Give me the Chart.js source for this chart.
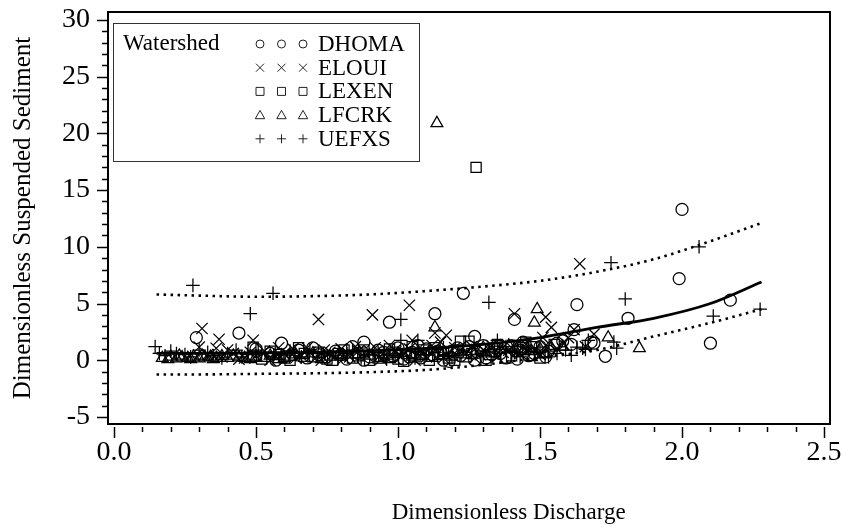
<!DOCTYPE html>
<html>
<head>
<meta charset="utf-8">
<script src="https://cdn.jsdelivr.net/npm/chart.js@4.4.1/dist/chart.umd.min.js"></script>
<style>
  html, body { margin: 0; padding: 0; background: #fff; }
  #wrap { width: 842px; height: 529px; }
</style>
</head>
<body>
<div id="wrap"><canvas id="c" width="842" height="529"></canvas></div>
<script>
// ---- Data ----
const seriesNames = ['DHOMA', 'ELOUI', 'LEXEN', 'LFCRK', 'UEFXS'];
const xTickLabels = [0.0, 0.5, 1.0, 1.5, 2.0, 2.5];
const yTickLabels = [-5, 0, 5, 10, 15, 20, 25, 30];
const xTitle = 'Dimensionless Discharge';
const yTitle = 'Dimensionless Suspended Sediment';
const legendTitle = 'Watershed';

const dhoma = [
  [0.29,2.0],[0.44,2.4],[0.59,1.5],[0.88,1.6],[0.97,3.35],[1.13,4.1],[1.23,5.9],[1.27,2.1],
  [1.41,3.6],[1.44,1.6],[1.58,1.7],[1.61,1.4],[1.62,2.7],[1.63,4.9],[1.68,1.6],[1.69,1.5],
  [1.73,0.35],[1.81,3.7],[1.99,7.2],[2.0,13.3],[2.10,1.5],[2.17,5.3],
  [0.55,0.6],[0.60,0.3],[0.65,0.9],[0.68,0.2],[0.72,0.5],[0.78,0.8],[0.82,0.1],[0.86,0.6],
  [0.90,0.3],[0.93,0.9],[0.98,0.4],[1.02,0.1],[1.05,0.7],[1.08,0.2],[1.10,1.0],[1.12,0.5],
  [1.16,0.0],[1.19,0.8],[1.22,0.4],[1.25,1.2],[1.28,0.7],[1.31,0.2],[1.34,1.1],[1.36,0.6],
  [1.40,1.3],[1.43,0.9],[1.46,0.4],[1.50,1.2],[1.53,0.8],[1.56,1.5],
  [0.50,1.0],[0.57,0.0],[0.63,0.5],[0.70,1.1],[0.75,0.3],[0.80,0.5],[0.84,1.2],[0.88,0.0],
  [0.95,0.7],[1.00,1.1],[1.04,0.3],[1.07,1.3],[1.14,0.8],[1.18,-0.1],[1.21,1.1],[1.27,0.0],
  [1.30,1.3],[1.33,0.5],[1.38,0.2],[1.42,0.1],[1.48,0.6],[1.52,0.3]
];
const eloui = [
  [0.31,2.8],[0.30,1.15],[0.37,1.85],[0.36,1.06],[0.49,1.76],[0.72,3.6],[0.91,4.0],[1.04,4.85],
  [1.05,1.76],[1.13,2.4],[1.17,2.2],[1.15,1.6],[1.41,4.1],[1.52,3.8],[1.54,2.9],[1.51,2.0],
  [1.62,2.7],[1.64,8.5],[1.69,2.3],
  [0.33,0.5],[0.38,0.3],[0.42,0.6],[0.46,0.2],[0.50,0.4],[0.53,0.8],[0.57,0.3],[0.60,0.6],
  [0.63,1.0],[0.66,0.4],[0.69,0.7],[0.71,0.2],[0.74,0.9],[0.77,0.5],[0.80,1.0],[0.83,0.3],
  [0.86,0.8],[0.89,0.4],[0.92,1.1],[0.95,0.6],[0.99,0.9],[1.01,0.3],[1.04,1.0],[1.07,0.6],
  [1.10,0.3],[1.13,0.9],[1.17,0.5],[1.20,1.1],[1.24,0.6],[1.27,0.2],[1.30,0.9],[1.33,1.3],
  [1.37,0.7],[1.40,1.1],[1.45,1.4],[1.48,0.9],[1.52,1.3],[1.56,1.0],[1.60,2.0],[1.66,1.2],
  [0.40,0.9],[0.44,0.1],[0.48,0.7],[0.55,0.0],[0.58,1.1],[0.64,0.2],[0.68,1.1],[0.73,0.0],
  [0.76,0.7],[0.81,0.2],[0.85,1.2],[0.90,0.8],[0.94,0.1],[0.97,1.3],[1.02,0.6],[1.06,0.0],
  [1.09,0.8],[1.12,1.3],[1.16,0.2],[1.22,0.9],[1.26,1.2],[1.29,0.5],[1.35,0.3],[1.39,0.9],
  [1.43,0.6],[1.50,0.5],[1.58,1.5]
];
const lexen = [
  [1.275,17.0],[0.49,0.35],[0.49,1.15],[1.22,1.68],[1.25,1.68],[1.45,1.6],[1.51,0.7],
  [0.52,0.1],[0.58,0.5],[0.62,0.0],[0.67,0.6],[0.70,0.3],[0.75,0.1],[0.79,0.6],[0.84,0.2],
  [0.88,0.9],[0.90,0.0],[0.95,0.4],[0.97,1.0],[1.00,0.1],[1.03,0.6],[1.06,0.3],[1.09,0.9],
  [1.11,0.0],[1.14,0.5],[1.18,0.2],[1.21,0.9],[1.24,0.3],[1.29,1.0],[1.32,0.5],[1.35,1.4],
  [1.38,0.2],[1.42,0.8],[1.47,1.2],[1.55,1.4],
  [0.55,0.8],[0.60,0.2],[0.65,1.1],[0.72,0.7],[0.77,0.0],[0.81,0.9],[0.86,0.4],[0.93,0.2],
  [0.99,0.7],[1.02,-0.1],[1.05,1.2],[1.08,0.5],[1.13,1.1],[1.16,0.6],[1.20,0.0],[1.26,0.6],
  [1.31,0.0],[1.34,0.8],[1.40,0.4],[1.44,1.1],[1.50,0.2]
];
const lfcrk = [
  [1.137,20.9],[1.13,2.9],[1.49,4.5],[1.48,3.3],[1.74,2.0],[1.85,1.06],[1.47,0.26],
  [0.17,0.2],[0.20,0.3],[0.22,0.15],[0.24,0.25],[0.26,0.2],[0.28,0.3],[0.30,0.15],[0.32,0.25],
  [0.34,0.3],[0.36,0.2],[0.38,0.35],[0.44,0.25],[0.46,0.2],[0.50,0.3],[0.55,0.4],[0.60,0.2],
  [0.64,0.5],[0.70,0.6],[0.76,0.3],[0.85,0.5],[0.94,0.2],[1.00,0.6],[1.08,0.4],[1.19,0.3],
  [1.26,0.8],[1.30,1.1],[1.36,0.9],[1.39,1.3],[1.44,0.8],[1.47,0.8],[1.54,1.1],[1.58,1.2],
  [0.19,0.1],[0.23,0.4],[0.27,0.1],[0.31,0.4],[0.35,0.1],[0.40,0.2],[0.42,0.4],[0.48,0.1],
  [0.53,0.2],[0.58,0.1],[0.62,0.3],[0.67,0.2],[0.73,0.1],[0.80,0.3],[0.90,0.4],[0.97,0.1],
  [1.05,0.3],[1.12,0.2],[1.16,0.7],[1.23,0.5],[1.33,0.6],[1.41,1.0],[1.50,1.0],[1.52,0.5]
];
const uefxs = [
  [0.145,1.2],[0.278,6.6],[0.56,5.9],[0.48,4.1],[1.01,3.6],[1.01,1.76],[1.07,1.76],[1.32,5.1],
  [1.35,1.76],[1.63,1.15],[1.65,1.06],[1.61,0.44],[1.67,1.76],[1.76,1.6],[1.77,1.06],[1.75,8.6],
  [1.80,5.4],[2.06,10.0],[2.11,3.9],[2.275,4.5],
  [0.16,0.6],[0.20,0.8],[0.25,0.5],[0.30,0.9],[0.35,0.4],[0.40,0.6],[0.43,0.9],[0.47,0.5],
  [0.52,0.7],[0.56,0.2],[0.62,0.8],[0.66,0.3],[0.73,0.6],[0.79,0.2],[0.84,0.9],[0.90,0.5],
  [0.96,0.1],[1.03,0.8],[1.10,0.5],[1.16,1.1],[1.23,0.9],[1.30,0.4],[1.38,1.2],[1.43,0.3],
  [1.50,0.8],[1.56,0.6],[1.59,0.9],[1.66,0.95],
  [0.18,0.4],[0.22,0.6],[0.27,0.3],[0.33,0.7],[0.38,0.2],[0.45,0.3],[0.50,0.9],[0.59,0.5],
  [0.69,0.9],[0.76,0.4],[0.82,0.6],[0.87,0.2],[0.93,0.7],[0.99,0.4],[1.06,0.2],[1.13,0.7],
  [1.19,0.3],[1.26,0.5],[1.34,0.8],[1.41,0.7],[1.46,1.0],[1.53,0.3]
];

// fitted curve and bounds
const curveX = [0.15, 0.3, 0.5, 0.7, 0.9, 1.1, 1.3, 1.5, 1.7, 1.9, 2.1, 2.28];
const fitY   = [0.6, 0.6, 0.65, 0.7, 0.85, 1.05, 1.4, 2.0, 2.9, 3.7, 5.0, 6.9];
const upperY = [5.8, 5.7, 5.6, 5.65, 5.8, 6.1, 6.5, 7.0, 7.8, 8.9, 10.5, 12.1];
const lowerY = [-1.25, -1.25, -1.2, -1.15, -1.05, -0.85, -0.4, 0.25, 0.9, 2.1, 3.3, 4.5];

// ---- Build chart ----
const FONT = '"Liberation Serif", "Times New Roman", serif';
const toPts = arr => arr.map(p => ({x: p[0], y: p[1]}));
const curve = ys => curveX.map((x, i) => ({x: x, y: ys[i]}));

const styles = ['circle', 'crossRot', 'rect', 'triangle', 'cross'];
const radii  = [6, 8, 7.2, 6.8, 6.8];
const sets   = [dhoma, eloui, lexen, lfcrk, uefxs];

const datasets = sets.map((s, i) => ({
  type: 'scatter',
  label: seriesNames[i],
  data: toPts(s),
  pointStyle: styles[i],
  pointRadius: radii[i],
  pointBorderColor: '#000',
  pointBackgroundColor: 'rgba(0,0,0,0)',
  pointBorderWidth: 1.25,
  showLine: false
}));
const lineBase = {type: 'line', pointRadius: 0, borderColor: '#000', fill: false, cubicInterpolationMode: 'monotone'};
datasets.push(Object.assign({}, lineBase, {label: 'fit', data: curve(fitY), borderWidth: 2.8}));
datasets.push(Object.assign({}, lineBase, {label: 'upper', data: curve(upperY), borderWidth: 2.6, borderDash: [2.5, 4.5]}));
datasets.push(Object.assign({}, lineBase, {label: 'lower', data: curve(lowerY), borderWidth: 2.6, borderDash: [2.5, 4.5]}));

function drawSym(ctx, style, x, y, r) {
  ctx.beginPath();
  if (style === 'circle') { ctx.arc(x, y, r, 0, Math.PI * 2); }
  else if (style === 'crossRot') { ctx.moveTo(x - r, y - r); ctx.lineTo(x + r, y + r); ctx.moveTo(x - r, y + r); ctx.lineTo(x + r, y - r); }
  else if (style === 'rect') { ctx.rect(x - r, y - r, 2 * r, 2 * r); }
  else if (style === 'triangle') { ctx.moveTo(x, y - r * 1.05); ctx.lineTo(x + r * 1.05, y + r * 0.8); ctx.lineTo(x - r * 1.05, y + r * 0.8); ctx.closePath(); }
  else if (style === 'cross') { ctx.moveTo(x - r, y); ctx.lineTo(x + r, y); ctx.moveTo(x, y - r); ctx.lineTo(x, y + r); }
  ctx.stroke();
}

const framePlugin = {
  id: 'frame',
  afterDraw(chart) {
    const {ctx, chartArea: a, scales: {x, y}} = chart;
    ctx.save();
    ctx.strokeStyle = '#000';
    ctx.lineWidth = 2;
    ctx.strokeRect(a.left, a.top, a.right - a.left, a.bottom - a.top);
    // y ticks
    ctx.lineWidth = 1.5;
    for (let v = yTickLabels[0]; v <= yTickLabels[yTickLabels.length - 1]; v += 1) {
      const py = Math.round(y.getPixelForValue(v)) + 0.5;
      const len = (v % 5 === 0) ? 11 : 6;
      ctx.beginPath(); ctx.moveTo(a.left - len, py); ctx.lineTo(a.left, py); ctx.stroke();
    }
    // x ticks (offset below the frame)
    for (let k = 0; k <= 25; k++) {
      const v = k / 10;
      const px = Math.round(x.getPixelForValue(v)) + 0.5;
      const len = (k % 5 === 0) ? 11 : 5;
      ctx.beginPath(); ctx.moveTo(px, a.bottom + 3); ctx.lineTo(px, a.bottom + 3 + len); ctx.stroke();
    }
    // x axis title
    ctx.fillStyle = '#000';
    ctx.font = '23px ' + FONT;
    ctx.textAlign = 'center';
    ctx.textBaseline = 'middle';
    ctx.fillText(xTitle, x.getPixelForValue(1.39), 513);
    // legend box
    const L = {x: a.left + 5, y: a.top + 11, w: 306, h: 138};
    ctx.lineWidth = 1;
    ctx.strokeStyle = '#333';
    ctx.strokeRect(L.x + 0.5, L.y + 0.5, L.w, L.h);
    ctx.font = '23px ' + FONT;
    ctx.textAlign = 'left';
    ctx.fillText(legendTitle, L.x + 10, L.y + 21);
    ctx.strokeStyle = '#222';
    const symR = [4, 4, 4, 4.5, 4.5];
    for (let i = 0; i < seriesNames.length; i++) {
      const cy = L.y + 21 + i * 23.7;
      for (let j = 0; j < 3; j++) {
        drawSym(ctx, styles[i], L.x + 147 + j * 21.5, cy, symR[i]);
      }
      ctx.fillText(seriesNames[i], L.x + 205, cy + 1);
    }
    ctx.restore();
  }
};

new Chart(document.getElementById('c'), {
  data: {datasets: datasets},
  options: {
    responsive: false,
    animation: false,
    layout: {padding: {top: 12, right: 12, left: 0, bottom: 0}},
    plugins: {legend: {display: false}, tooltip: {enabled: false}},
    scales: {
      x: {
        type: 'linear', position: 'bottom',
        min: -0.021, max: 2.521,
        afterBuildTicks: s => { s.ticks = xTickLabels.map(v => ({value: v})); },
        afterFit: s => { s.height = 105; s.paddingLeft = 0; s.paddingRight = 0; },
        grid: {display: false, drawTicks: false, tickLength: 0},
        border: {display: false},
        ticks: {color: '#000', font: {family: FONT, size: 28}, padding: 12, maxRotation: 0,
                callback: v => Number(v).toFixed(1)},
        title: {display: false}
      },
      y: {
        type: 'linear', position: 'left',
        min: -5.62, max: 30.7,
        afterBuildTicks: s => { s.ticks = yTickLabels.map(v => ({value: v})); },
        afterFit: s => { s.width = 108; s.paddingTop = 0; s.paddingBottom = 0; },
        grid: {display: false, drawTicks: false, tickLength: 0},
        border: {display: false},
        ticks: {color: '#000', font: {family: FONT, size: 28}, padding: 18,
                callback: v => String(v)},
        title: {display: true, text: yTitle, color: '#000',
                font: {family: FONT, size: 25}, padding: {top: 8, bottom: 0}}
      }
    }
  },
  plugins: [framePlugin]
});
</script>
</body>
</html>
